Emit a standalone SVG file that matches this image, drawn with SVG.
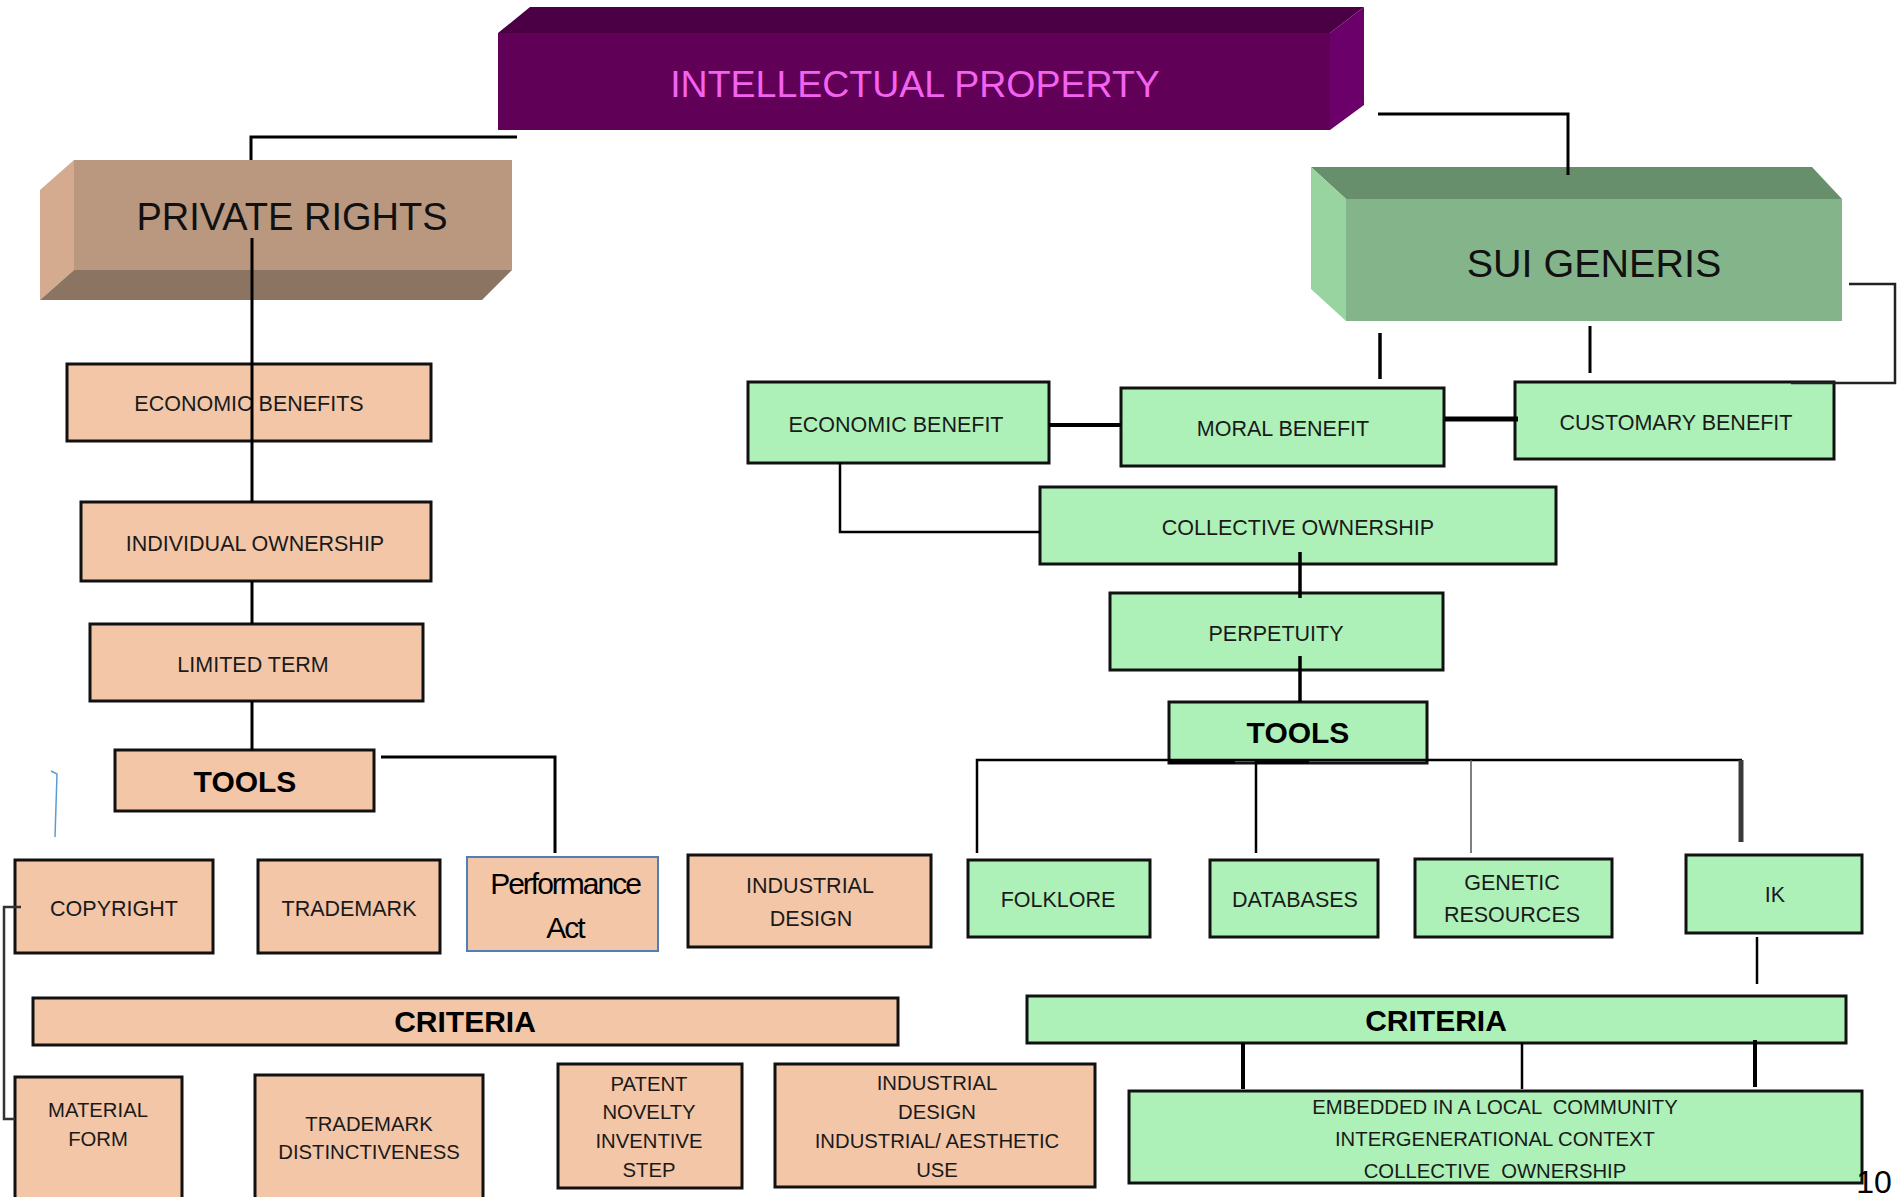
<svg xmlns="http://www.w3.org/2000/svg" width="1897" height="1197" viewBox="0 0 1897 1197">
<style>
text{font-family:"Liberation Sans",Arial,sans-serif;text-anchor:middle;fill:#1a1a1a}
.o{fill:#f3c6a8;stroke:#111;stroke-width:3}
.g{fill:#adf1b8;stroke:#111;stroke-width:3}
.t{font-size:21.5px;transform:translateY(-1.5px)}
.s{font-size:20.3px;transform:translateY(-1.5px)}
.b{font-size:30px;font-weight:bold;fill:#000;transform:translateY(-1px)}
.c{fill:none;stroke:#000;stroke-width:3}
</style>
<rect width="1897" height="1197" fill="#fff"/>

<g id="intellectual-property">
<polygon points="498,33 530,7 1364,7 1330,33" fill="#4b0046"/>
<polygon points="1330,33 1364,7 1364,105 1330,130" fill="#6c006a"/>
<rect x="498" y="33" width="832" height="97" fill="#600057"/>
<text x="915" y="97" style="font-size:37.5px;fill:#f462f0">INTELLECTUAL PROPERTY</text>
</g>

<g id="private-rights">
<polygon points="40,190 74,160 74,270 40,300" fill="#d4ab8f"/>
<rect x="74" y="160" width="438" height="110" fill="#ba977f"/>
<polygon points="74,270 512,270 482,300 40,300" fill="#8c7462"/>
<text x="292" y="230" style="font-size:38px;fill:#111">PRIVATE RIGHTS</text>
</g>

<g id="sui-generis">
<polygon points="1311,167 1812,167 1842,199 1346,199" fill="#688f6b"/>
<polygon points="1311,167 1346,199 1346,321 1311,289" fill="#98d4a0"/>
<rect x="1346" y="199" width="496" height="122" fill="#84b58a"/>
<text x="1594" y="277" style="font-size:39.5px;fill:#111">SUI GENERIS</text>
</g>

<g id="economic-benefits"><rect class="o" x="67" y="364" width="364" height="77"/><text class="t" x="249" y="412">ECONOMIC BENEFITS</text></g>
<g id="individual-ownership"><rect class="o" x="81" y="502" width="350" height="79"/><text class="t" x="255" y="552">INDIVIDUAL OWNERSHIP</text></g>
<g id="limited-term"><rect class="o" x="90" y="624" width="333" height="77"/><text class="t" x="253" y="673">LIMITED TERM</text></g>
<g id="tools-private"><rect class="o" x="115" y="750" width="259" height="61"/><text class="b" x="245" y="793">TOOLS</text></g>
<g id="copyright"><rect class="o" x="15" y="860" width="198" height="93"/><text class="t" x="114" y="917">COPYRIGHT</text></g>
<g id="trademark"><rect class="o" x="258" y="860" width="182" height="93"/><text class="t" x="349" y="917">TRADEMARK</text></g>
<g id="performance-act"><rect x="467" y="857" width="191" height="94" fill="#f3c6a8" stroke="#4f7fb5" stroke-width="2"/><text x="565" y="894" style="font-size:30px;letter-spacing:-2px;fill:#000">Performance</text><text x="565" y="938" style="font-size:30px;letter-spacing:-2px;fill:#000">Act</text></g>
<g id="industrial-design"><rect class="o" x="688" y="855" width="243" height="92"/><text class="t" x="810" y="894">INDUSTRIAL</text><text class="t" x="811" y="927">DESIGN</text></g>
<g id="criteria-private"><rect class="o" x="33" y="998" width="865" height="47"/><text class="b" x="465" y="1033">CRITERIA</text></g>
<g id="material-form"><rect class="o" x="15" y="1077" width="167" height="135"/><text class="s" x="98" y="1118">MATERIAL</text><text class="s" x="98" y="1147">FORM</text></g>
<g id="trademark-distinctiveness"><rect class="o" x="255" y="1075" width="228" height="135"/><text class="s" x="369" y="1132">TRADEMARK</text><text class="s" x="369" y="1160">DISTINCTIVENESS</text></g>
<g id="patent"><rect class="o" x="558" y="1064" width="184" height="124"/><text class="s" x="649" y="1092">PATENT</text><text class="s" x="649" y="1120">NOVELTY</text><text class="s" x="649" y="1149">INVENTIVE</text><text class="s" x="649" y="1178">STEP</text></g>
<g id="industrial-design-criteria"><rect class="o" x="775" y="1064" width="320" height="123"/><text class="s" x="937" y="1091">INDUSTRIAL</text><text class="s" x="937" y="1120">DESIGN</text><text class="s" x="937" y="1149">INDUSTRIAL/ AESTHETIC</text><text class="s" x="937" y="1178">USE</text></g>

<g id="economic-benefit"><rect class="g" x="748" y="382" width="301" height="81"/><text class="t" x="896" y="433">ECONOMIC BENEFIT</text></g>
<g id="moral-benefit"><rect class="g" x="1121" y="388" width="323" height="78"/><text class="t" x="1283" y="437">MORAL BENEFIT</text></g>
<g id="customary-benefit"><rect class="g" x="1515" y="382" width="319" height="77"/><text class="t" x="1676" y="431">CUSTOMARY BENEFIT</text></g>
<g id="collective-ownership"><rect class="g" x="1040" y="487" width="516" height="77"/><text class="t" x="1298" y="536">COLLECTIVE OWNERSHIP</text></g>
<g id="perpetuity"><rect class="g" x="1110" y="593" width="333" height="77"/><text class="t" x="1276" y="642">PERPETUITY</text></g>
<g id="tools-sui"><rect class="g" x="1169" y="702" width="258" height="61"/><text class="b" x="1298" y="744">TOOLS</text></g>
<g id="folklore"><rect class="g" x="968" y="860" width="182" height="77"/><text class="t" x="1058" y="908">FOLKLORE</text></g>
<g id="databases"><rect class="g" x="1210" y="860" width="168" height="77"/><text class="t" x="1295" y="908">DATABASES</text></g>
<g id="genetic-resources"><rect class="g" x="1415" y="859" width="197" height="78"/><text class="t" x="1512" y="891">GENETIC</text><text class="t" x="1512" y="923">RESOURCES</text></g>
<g id="ik"><rect class="g" x="1686" y="855" width="176" height="78"/><text class="t" x="1775" y="903">IK</text></g>
<g id="criteria-sui"><rect class="g" x="1027" y="996" width="819" height="47"/><text class="b" x="1436" y="1032">CRITERIA</text></g>
<g id="embedded"><rect class="g" x="1129" y="1091" width="733" height="92"/><text class="s" x="1495" y="1115" xml:space="preserve">EMBEDDED IN A LOCAL  COMMUNITY</text><text class="s" x="1495" y="1147">INTERGENERATIONAL CONTEXT</text><text class="s" x="1495" y="1179" xml:space="preserve">COLLECTIVE  OWNERSHIP</text></g>

<g id="connectors">
<path class="c" d="M517,137 H251 V160"/>
<path class="c" d="M252,238 V502"/>
<path class="c" d="M252,581 V624"/>
<path class="c" d="M252,701 V750"/>
<path class="c" d="M381,757 H555 V853"/>
<path d="M21,907 H4 V1119 H15" fill="none" stroke="#333" stroke-width="2.5"/>
<path d="M51,771 L57,774 L55,837" fill="none" stroke="#5b9bd5" stroke-width="1.5"/>
<path class="c" d="M1378,114 H1568 V175"/>
<path class="c" d="M1380,333 V379" style="stroke-width:3.5"/>
<path class="c" d="M1590,326 V373"/>
<path d="M1849,284 H1895 V383 H1791" fill="none" stroke="#222" stroke-width="2.5"/>
<path class="c" d="M1049,425 H1121" style="stroke-width:4"/>
<path class="c" d="M1445,419 H1518" style="stroke-width:5"/>
<path class="c" d="M840,463 V532 H1040" style="stroke-width:2.5"/>
<path class="c" d="M1300,552 V598" style="stroke-width:3.5"/>
<path class="c" d="M1300,656 V702" style="stroke-width:3.5"/>
<path class="c" d="M977,853 V760 H1742" style="stroke-width:2.5"/>
<path class="c" d="M1169,762 H1235 M1256,762 H1309" style="stroke-width:4"/>
<path class="c" d="M1256,760 V853" style="stroke-width:2.5"/>
<path d="M1471,760 V853" stroke="#555" stroke-width="1.5"/>
<path d="M1741,760 V842" stroke="#3a3a3a" stroke-width="5"/>
<path class="c" d="M1757,937 V984" style="stroke-width:2.5"/>
<path class="c" d="M1243,1043 V1089" style="stroke-width:4"/>
<path class="c" d="M1522,1043 V1089" style="stroke-width:2.5"/>
<path class="c" d="M1755,1040 V1087" style="stroke-width:4"/>
</g>
<text x="1874" y="1193" style="font-size:32px;fill:#000">10</text>
</svg>
